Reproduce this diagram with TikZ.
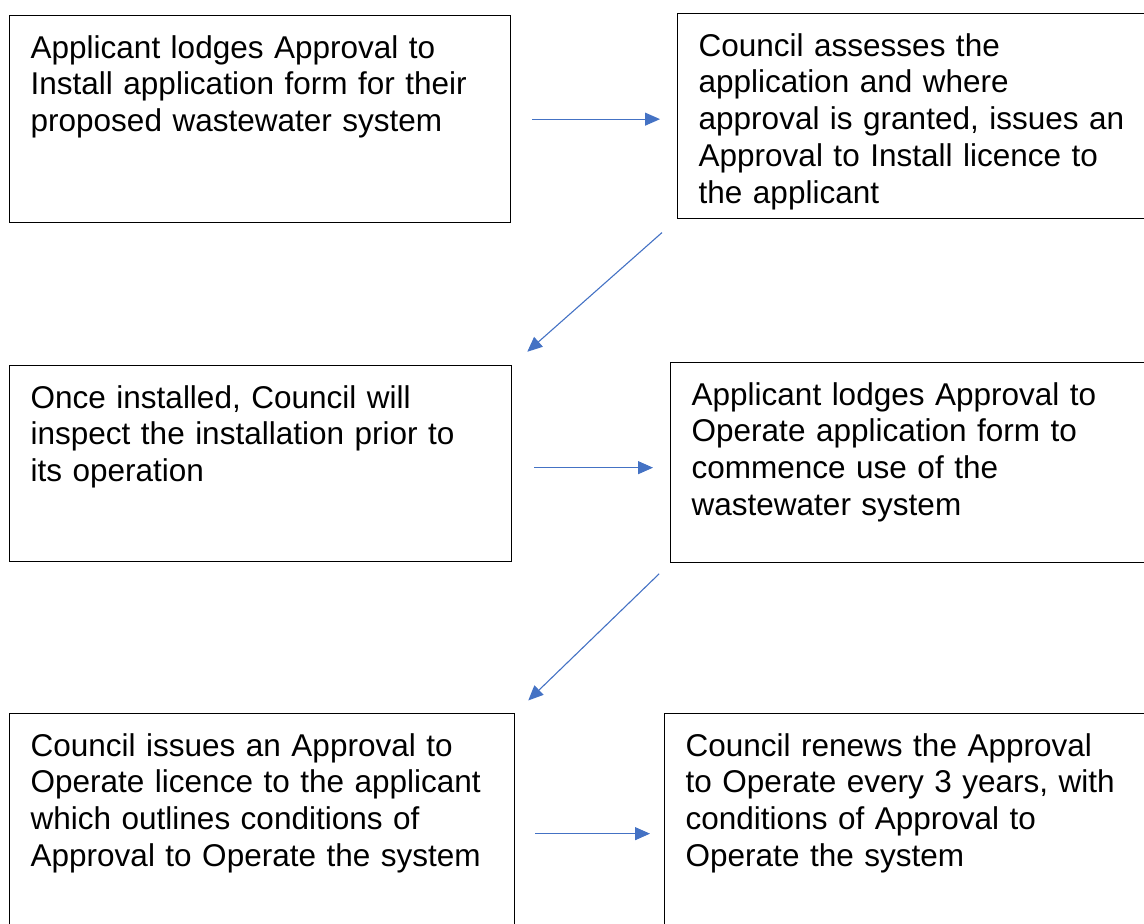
\documentclass[tikz,border=0pt]{standalone}
\usepackage{fontspec}
\setmainfont{Liberation Sans}
\usepackage{tikz}
\usetikzlibrary{arrows.meta}
\definecolor{arrowblue}{HTML}{4472C4}
\tikzset{%
    stage/.style={draw=black,line width=1.3pt,anchor=north west,inner sep=0pt},
    txt/.style={anchor=north west,align=left,text width=470pt,inner xsep=21.5pt,inner ysep=20pt,font=\fontsize{31.5}{36.8}\selectfont},
    flow/.style={draw=arrowblue,line width=1.1pt,-{Triangle[length=15pt,width=13pt]}}
}
\begin{document}
\begin{tikzpicture}[x=1pt,y=-1pt]
        \useasboundingbox (0,0) rectangle (1144,924);
        \clip (0,0) rectangle (1144,924);
        \node[stage, minimum width=501, minimum height=207] (s1) at (9,15){};
        \node[stage, minimum width=473, minimum height=205] (s2) at (677,13){};
        \node[stage, minimum width=502, minimum height=196] (s3) at (9,365){};
        \node[stage, minimum width=480, minimum height=200] (s4) at (670,362){};
        \node[stage, minimum width=505, minimum height=230] (s5) at (9,713){};
        \node[stage, minimum width=486, minimum height=230] (s6) at (664,713){};
        \node[txt] (t1) at (s1.north west){Applicant lodges Approval to\\Install application form for their\\proposed wastewater system};
        \node[txt] (t2) at (s2.north west){Council assesses the\\application and where\\approval is granted, issues an\\Approval to Install licence to\\the applicant};
        \node[txt] (t3) at (s3.north west){Once installed, Council will\\inspect the installation prior to\\its operation};
        \node[txt] (t4) at (s4.north west){Applicant lodges Approval to\\Operate application form to\\commence use of the\\wastewater system};
        \node[txt] (t5) at (s5.north west){Council issues an Approval to\\Operate licence to the applicant\\which outlines conditions of\\Approval to Operate the system};
        \node[txt] (t6) at (s6.north west){Council renews the Approval\\to Operate every 3 years, with\\conditions of Approval to\\Operate the system};
        \draw[flow, shorten <=21pt, shorten >=17pt] (s1.east) -- (s1.east -| s2.west);
        \draw[flow, shorten <=20pt, shorten >=20pt] (s2.south west) -- (s3.north east);
        \draw[flow, shorten <=22pt, shorten >=17pt] ([yshift=-4pt]s3.east) -- ([yshift=-4pt]s3.east -| s4.west);
        \draw[flow, shorten <=15pt, shorten >=18pt] (s4.south west) -- (s5.north east);
        \draw[flow, shorten <=20pt, shorten >=14pt] ([yshift=-5pt]s5.east) -- ([yshift=-5pt]s5.east -| s6.west);
    \end{tikzpicture}
\end{document}
